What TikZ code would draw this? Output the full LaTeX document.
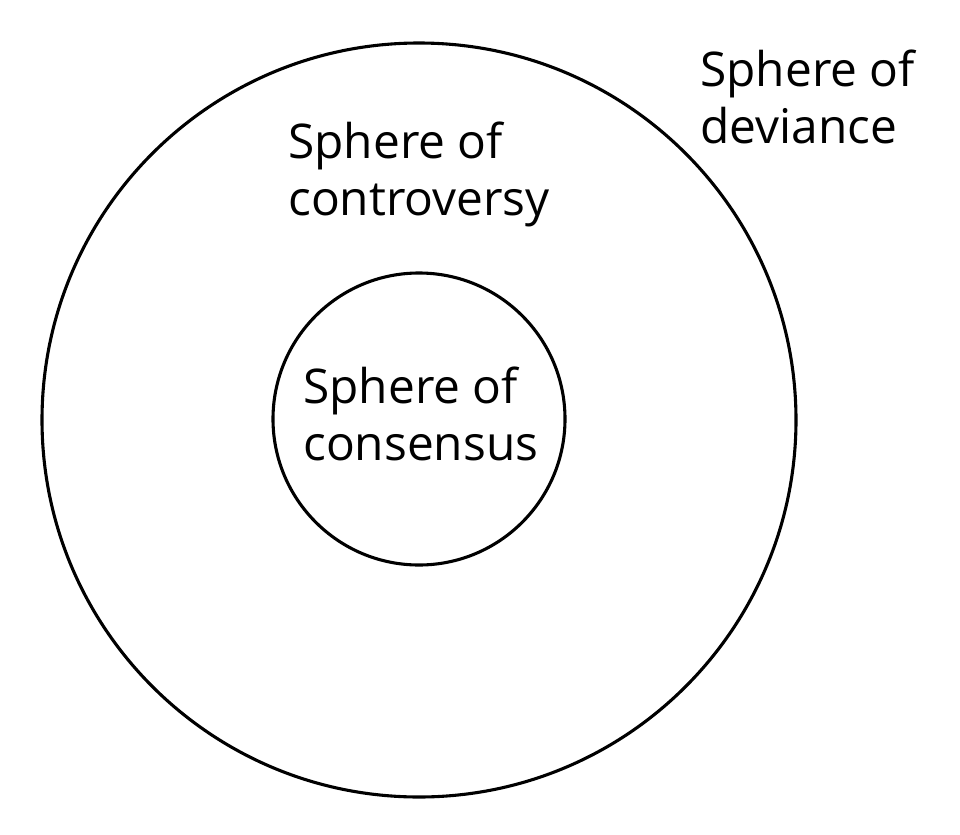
\documentclass[tikz,border=0pt]{standalone}
\usepackage{fontspec}
\setmainfont{Open Sans}
\begin{document}
\begin{tikzpicture}[x=0.025cm,y=-0.025cm]
	\tikzset{
		sphere/.style={draw=black, line width=2.2pt, circle, inner sep=0pt},
		label/.style={align=left, anchor=north west, inner sep=0pt,
			font=\fontsize{34}{40.5}\selectfont}
	}
	% Bounds
	\useasboundingbox (0,0) rectangle (960,835);

	% Circles
	\node[sphere, minimum size=754*0.025cm] (outer) at (419,420) {};
	\node[sphere, minimum size=292*0.025cm] (inner) at (419,419) {};

	% Texts
	\node[label] (deviance) at (700,50) {Sphere of\\deviance};
	\node[label] (controversy) at (288,122) {Sphere of\\controversy};
	\node[label] (consensus) at (303,367) {Sphere of\\consensus};
\end{tikzpicture}
\end{document}
